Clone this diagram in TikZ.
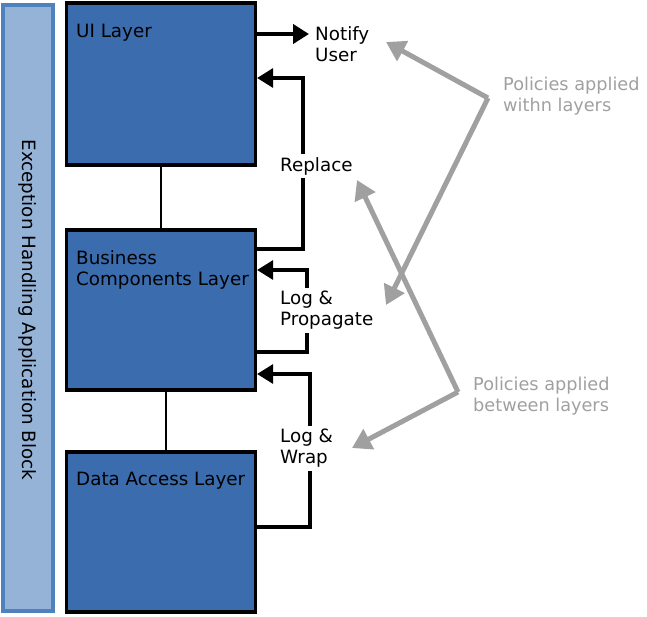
\documentclass[tikz,border=0pt]{standalone}
\usepackage{fontspec}
\setmainfont{DejaVu Sans}
\usetikzlibrary{arrows.meta,calc}
\definecolor{layerblue}{HTML}{3A6CAE}
\definecolor{barfill}{HTML}{95B3D7}
\definecolor{barline}{HTML}{4F81BD}
\definecolor{policygray}{HTML}{A0A0A0}
\begin{document}
\begin{tikzpicture}[x=1pt,y=-1pt,
  layer/.style={draw=black,line width=3.2pt,fill=layerblue,inner sep=0pt,minimum width=189pt},
  barbox/.style={draw=barline,line width=3.5pt,fill=barfill,inner sep=0pt},
  txt/.style={font=\fontsize{18.3}{21}\selectfont,inner sep=0pt,anchor=north west,align=left,text=black},
  gtxt/.style={font=\fontsize{17.7}{21}\selectfont,inner sep=0pt,anchor=north west,align=left,text=policygray},
  flow/.style={draw=black,line width=3.2pt,-{Triangle[length=16pt,width=19pt]}},
  link/.style={draw=black,line width=2.8pt},
  pol/.style={draw=policygray,line width=5pt,-{Triangle[length=19pt,width=22pt]}}
]
\useasboundingbox (0,0) rectangle (647,616);

% left bar
\node[barbox,minimum width=50pt,minimum height=606pt] (eh) at (28,308) {};
\node[rotate=-90,font=\fontsize{18.3}{21}\selectfont,inner sep=0pt] (ehtxt) at (28,310) {Exception Handling Application Block};

% layers
\node[layer,minimum height=162pt] (ui) at (161,84) {};
\node[layer,minimum height=160pt] (biz) at (161,310) {};
\node[layer,minimum height=160pt] (dal) at (161,532) {};

\node[txt] (uit) at (76,24) {UI Layer};
\node[txt] (bizt) at (76,250) {Business\\Components Layer};
\node[txt] (dalt) at (76,472) {Data Access Layer};

% vertical links
\draw[link] (ui.south) -- (biz.north);
\draw[link] ([xshift=5pt]biz.south) -- ([xshift=5pt]dal.north);

% bend coordinates
\coordinate (nu) at (309,34);
\coordinate (r1) at (303,249);
\coordinate (r2) at (303,78);
\coordinate (p1) at (307,352);
\coordinate (p2) at (307,270);
\coordinate (w1) at (310,527);
\coordinate (w2) at (310,374);

% black flows
\draw[flow,line width=4pt] (ui.east |- nu) -- (nu);
\draw[flow] (biz.east |- r1) -- (r1) -- (r2) -- (ui.east |- r2);
\draw[flow] (biz.east |- p1) -- (p1) -- (p2) -- (biz.east |- p2);
\draw[flow] (dal.east |- w1) -- (w1) -- (w2) -- (biz.east |- w2);

% labels on the flows
\node[txt] (notify) at (315,26) {Notify\\User};
\node[txt,fill=white,inner ysep=3pt,yshift=3pt] (replace) at (280,157) {Replace};
\node[txt,fill=white,inner ysep=3pt,yshift=3pt] (logprop) at (280,291) {Log \&\\Propagate};
\node[txt,fill=white,inner ysep=3pt,yshift=3pt] (logwrap) at (280,429) {Log \&\\Wrap};

% policy texts
\node[gtxt] (within) at (503,77) {Policies applied\\withn layers};
\node[gtxt] (between) at (473,377) {Policies applied\\between layers};

% policy arrows
\coordinate (wv) at (488,98);
\coordinate (bv) at (458,392);
\draw[pol] (wv) -- (386,42);
\draw[pol] (wv) -- (386,305);
\draw[pol] (bv) -- (357,180);
\draw[pol] (bv) -- (352,448);
\end{tikzpicture}
\end{document}
